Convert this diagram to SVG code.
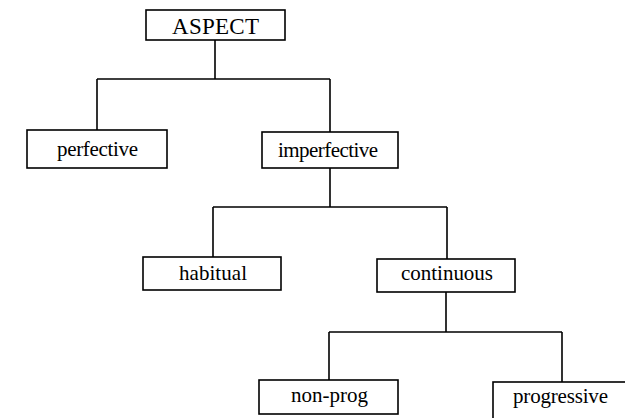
<svg xmlns="http://www.w3.org/2000/svg" width="625" height="418" viewBox="0 0 625 418">
<style>
.box{fill:#fff;stroke:#000;stroke-width:1.6}
.lbl{font-family:"Liberation Serif","Times New Roman",serif;font-size:21px;fill:#000;text-anchor:start}
.conn{fill:none;stroke:#000;stroke-width:1.6}
</style>
<rect width="625" height="418" fill="#fff"/>
<g id="connectors">
<path class="conn" d="M215,40 V79 M97,79 H330 M97,79 V130 M330,79 V132"/>
<path class="conn" d="M330,168 V207 M213,207 H447 M213,207 V257 M447,207 V259"/>
<path class="conn" d="M446,292 V332 M329,332 H562 M329,332 V380 M562,332 V382"/>
</g>
<g id="aspect">
<rect class="box" x="146" y="10" width="139" height="30"/>
<text class="lbl" x="172" y="34" style="font-size:23px" textLength="87" lengthAdjust="spacing">ASPECT</text>
</g>
<g id="perfective">
<rect class="box" x="27" y="130" width="140" height="38"/>
<text class="lbl" x="57" y="156" textLength="81" lengthAdjust="spacing">perfective</text>
</g>
<g id="imperfective">
<rect class="box" x="262" y="132" width="136" height="36"/>
<text class="lbl" x="278" y="157" textLength="100" lengthAdjust="spacing">imperfective</text>
</g>
<g id="habitual">
<rect class="box" x="143" y="257" width="138" height="33"/>
<text class="lbl" x="179" y="280" textLength="68" lengthAdjust="spacing">habitual</text>
</g>
<g id="continuous">
<rect class="box" x="377" y="259" width="138" height="33"/>
<text class="lbl" x="401" y="280" textLength="92" lengthAdjust="spacing">continuous</text>
</g>
<g id="non-prog">
<rect class="box" x="259" y="380" width="139" height="34"/>
<text class="lbl" x="291" y="402" textLength="77" lengthAdjust="spacing">non-prog</text>
</g>
<g id="progressive">
<rect class="box" x="493" y="382" width="140" height="45"/>
<text class="lbl" x="513" y="403" textLength="95" lengthAdjust="spacing">progressive</text>
</g>
</svg>
